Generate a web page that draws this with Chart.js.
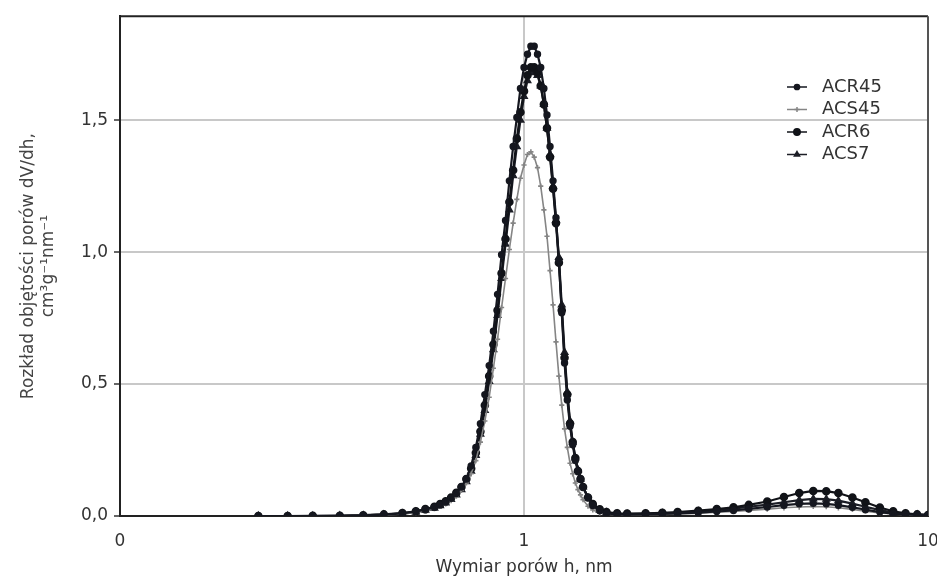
<!DOCTYPE html>
<html>
<head>
<meta charset="utf-8">
<script src="https://cdn.jsdelivr.net/npm/chart.js@4.4.1/dist/chart.umd.min.js"></script>
<style>
  html, body { margin: 0; padding: 0; background: #fff; }
  #wrap { width: 937px; height: 578px; }
</style>
</head>
<body>
<div id="wrap"><canvas id="psd" width="937" height="578"></canvas></div>
<script>
// pore size h, nm (shared by all series)
var poreSize = [0.22, 0.26, 0.30, 0.35, 0.40, 0.45, 0.50, 0.54, 0.57,
  0.60, 0.62, 0.64, 0.66, 0.68, 0.70, 0.72, 0.74, 0.76, 0.78, 0.80, 0.82, 0.84, 0.86, 0.88, 0.90,
  0.92, 0.94, 0.96, 0.98, 1.00, 1.02, 1.04, 1.06, 1.08, 1.10, 1.12, 1.14, 1.16, 1.18, 1.20,
  1.22, 1.24, 1.26, 1.28, 1.30, 1.32, 1.34, 1.36, 1.38, 1.40,
  1.44, 1.48, 1.54, 1.60, 1.70, 1.80,
  2.0, 2.2, 2.4, 2.7, 3.0, 3.3, 3.6,
  4.0, 4.4, 4.8, 5.2, 5.6, 6.0, 6.5, 7.0, 7.6, 8.2, 8.8, 9.4, 10.0];

var acr45 = [0, 0, 0, 0.001, 0.002, 0.005, 0.01, 0.017, 0.024,
  0.033, 0.042, 0.053, 0.067, 0.085, 0.11, 0.14, 0.19, 0.26, 0.35, 0.46, 0.57, 0.70, 0.84, 0.99, 1.12,
  1.27, 1.40, 1.51, 1.62, 1.70, 1.75, 1.78, 1.78, 1.75, 1.70, 1.62, 1.52, 1.40, 1.27, 1.13,
  0.97, 0.77, 0.58, 0.44, 0.34, 0.27, 0.21, 0.17, 0.14, 0.11,
  0.07, 0.04, 0.02, 0.01, 0.006, 0.005,
  0.006, 0.008, 0.01, 0.013, 0.017, 0.021, 0.027,
  0.034, 0.041, 0.046, 0.048, 0.046, 0.041, 0.033, 0.024, 0.015, 0.009, 0.006, 0.004, 0.003];

var acs45 = [0, 0, 0, 0.001, 0.002, 0.004, 0.008, 0.013, 0.02,
  0.028, 0.036, 0.046, 0.058, 0.075, 0.097, 0.125, 0.16, 0.21, 0.28, 0.36, 0.45, 0.56, 0.67, 0.79, 0.90,
  1.01, 1.11, 1.20, 1.28, 1.33, 1.37, 1.38, 1.36, 1.32, 1.25, 1.16, 1.06, 0.93, 0.80, 0.66,
  0.53, 0.42, 0.33, 0.26, 0.20, 0.16, 0.125, 0.10, 0.08, 0.062,
  0.037, 0.023, 0.012, 0.007, 0.005, 0.005,
  0.005, 0.006, 0.008, 0.01, 0.014, 0.017, 0.021,
  0.026, 0.031, 0.034, 0.036, 0.035, 0.031, 0.025, 0.018, 0.012, 0.008, 0.005, 0.003, 0.002];

var acr6 = [0, 0, 0.001, 0.001, 0.003, 0.006, 0.011, 0.018, 0.026,
  0.035, 0.045, 0.056, 0.07, 0.088, 0.11, 0.14, 0.18, 0.24, 0.32, 0.42, 0.53, 0.65, 0.78, 0.92, 1.05,
  1.19, 1.31, 1.43, 1.53, 1.61, 1.67, 1.70, 1.70, 1.68, 1.63, 1.56, 1.47, 1.36, 1.24, 1.11,
  0.96, 0.78, 0.60, 0.46, 0.35, 0.28, 0.22, 0.17, 0.14, 0.11,
  0.07, 0.045, 0.025, 0.015, 0.01, 0.009,
  0.01, 0.012, 0.015, 0.02, 0.026, 0.033, 0.042,
  0.055, 0.072, 0.087, 0.095, 0.094, 0.087, 0.07, 0.052, 0.032, 0.018, 0.01, 0.006, 0.004];

var acs7 = [0, 0, 0, 0.001, 0.002, 0.005, 0.009, 0.015, 0.022,
  0.03, 0.039, 0.05, 0.063, 0.08, 0.10, 0.13, 0.17, 0.23, 0.31, 0.40, 0.51, 0.63, 0.76, 0.90, 1.03,
  1.16, 1.29, 1.40, 1.50, 1.59, 1.65, 1.68, 1.69, 1.67, 1.63, 1.56, 1.47, 1.37, 1.25, 1.12,
  0.98, 0.80, 0.62, 0.47, 0.36, 0.28, 0.22, 0.175, 0.14, 0.11,
  0.068, 0.042, 0.022, 0.013, 0.008, 0.007,
  0.008, 0.01, 0.012, 0.017, 0.022, 0.028, 0.035,
  0.043, 0.052, 0.06, 0.065, 0.064, 0.058, 0.047, 0.035, 0.022, 0.013, 0.008, 0.005, 0.003];

var seriesNames = ['ACR45', 'ACS45', 'ACR6', 'ACS7'];
var xTickValues = [0.1, 1, 10];
var xTickLabels = ['0', '1', '10'];
var yTickValues = [0, 0.5, 1.0, 1.5];
var yTickLabels = ['0,0', '0,5', '1,0', '1,5'];

function pairs(ys) {
  return poreSize.map(function(x, i) { return {x: x, y: ys[i]}; });
}

var FONT = 'DejaVu Sans';

// top and right frame lines
var framePlugin = {
  id: 'frame',
  beforeDatasetsDraw: function(chart) {
    var a = chart.chartArea, ctx = chart.ctx;
    ctx.save();
    ctx.lineWidth = 2;
    ctx.strokeStyle = '#222';
    ctx.beginPath(); ctx.moveTo(a.left, a.top); ctx.lineTo(a.right, a.top); ctx.stroke();
    ctx.strokeStyle = '#555';
    ctx.beginPath(); ctx.moveTo(a.right, a.top); ctx.lineTo(a.right, a.bottom); ctx.stroke();
    ctx.restore();
  }
};

// legend inside the plot, upper right
var legendPlugin = {
  id: 'innerLegend',
  afterDraw: function(chart) {
    var ctx = chart.ctx;
    ctx.save();
    chart.data.datasets.forEach(function(ds, i) {
      var y = 87 + i * 22.5;
      ctx.strokeStyle = ds.borderColor;
      ctx.fillStyle = ds.pointBackgroundColor;
      ctx.lineWidth = 1.5;
      ctx.beginPath(); ctx.moveTo(787, y); ctx.lineTo(807, y); ctx.stroke();
      Chart.helpers.drawPoint(ctx, {pointStyle: ds.pointStyle, radius: ds.pointRadius, rotation: 0, borderWidth: 1.5}, 797, y);
      ctx.fillStyle = '#333';
      ctx.font = '18px "' + FONT + '"';
      ctx.textBaseline = 'middle';
      ctx.textAlign = 'left';
      ctx.fillText(ds.label, 822, y);
    });
    ctx.restore();
  }
};

var chart = new Chart('psd', {
  type: 'line',
  data: {
    datasets: [
      {
        label: seriesNames[0],
        data: pairs(acr45),
        borderColor: '#15171f',
        pointBackgroundColor: '#15171f',
        pointBorderColor: '#15171f',
        borderWidth: 2.2,
        pointStyle: 'circle',
        pointRadius: 2.6
      },
      {
        label: seriesNames[1],
        data: pairs(acs45),
        borderColor: '#858585',
        pointBackgroundColor: '#858585',
        pointBorderColor: '#858585',
        borderWidth: 1.6,
        pointStyle: 'cross',
        pointRadius: 2.6
      },
      {
        label: seriesNames[2],
        data: pairs(acr6),
        borderColor: '#111318',
        pointBackgroundColor: '#111318',
        pointBorderColor: '#111318',
        borderWidth: 2.2,
        pointStyle: 'circle',
        pointRadius: 3.2
      },
      {
        label: seriesNames[3],
        data: pairs(acs7),
        borderColor: '#1c1e26',
        pointBackgroundColor: '#1c1e26',
        pointBorderColor: '#1c1e26',
        borderWidth: 2.2,
        pointStyle: 'triangle',
        pointRadius: 3
      }
    ]
  },
  options: {
    responsive: false,
    animation: false,
    layout: { padding: { left: 0, right: 9, top: 16, bottom: 0 } },
    plugins: {
      legend: { display: false },
      tooltip: { enabled: false }
    },
    scales: {
      x: {
        type: 'logarithmic',
        min: 0.1,
        max: 10,
        afterBuildTicks: function(scale) {
          scale.ticks = xTickValues.map(function(v) { return {value: v}; });
        },
        afterFit: function(scale) {
          scale.height = 62;
          scale.paddingRight = 0;
          scale.paddingLeft = 0;
        },
        ticks: {
          autoSkip: false,
          maxRotation: 0,
          padding: 15,
          color: '#333',
          font: { family: FONT, size: 17 },
          callback: function(value, index) { return xTickLabels[index]; }
        },
        grid: {
          drawTicks: false,
          lineWidth: 2,
          color: function(ctx) { return ctx.tick && ctx.tick.value === 1 ? '#c8c8c8' : 'rgba(0,0,0,0)'; }
        },
        border: { color: '#222', width: 2 },
        title: {
          display: true,
          text: 'Wymiar porów h, nm',
          color: '#333',
          font: { family: FONT, size: 17 },
          padding: { top: 0, bottom: 0 }
        }
      },
      y: {
        min: 0,
        max: 1.894,
        afterBuildTicks: function(scale) {
          scale.ticks = yTickValues.map(function(v) { return {value: v}; });
        },
        afterFit: function(scale) { scale.width = 120; },
        ticks: {
          padding: 6,
          color: '#333',
          font: { family: FONT, size: 17 },
          callback: function(value, index) { return yTickLabels[index]; }
        },
        grid: {
          tickLength: 6,
          tickColor: '#333',
          tickWidth: 1.5,
          lineWidth: 2,
          color: function(ctx) { return ctx.tick && ctx.tick.value === 0 ? 'rgba(0,0,0,0)' : '#c8c8c8'; }
        },
        border: { color: '#222', width: 2 },
        title: {
          display: true,
          text: ['Rozkład objętości porów dV/dh,', 'cm³g⁻¹nm⁻¹'],
          color: '#444',
          font: { family: FONT, size: 17 },
          padding: { top: 18, bottom: 0 }
        }
      }
    }
  },
  plugins: [framePlugin, legendPlugin]
});
</script>
</body>
</html>
